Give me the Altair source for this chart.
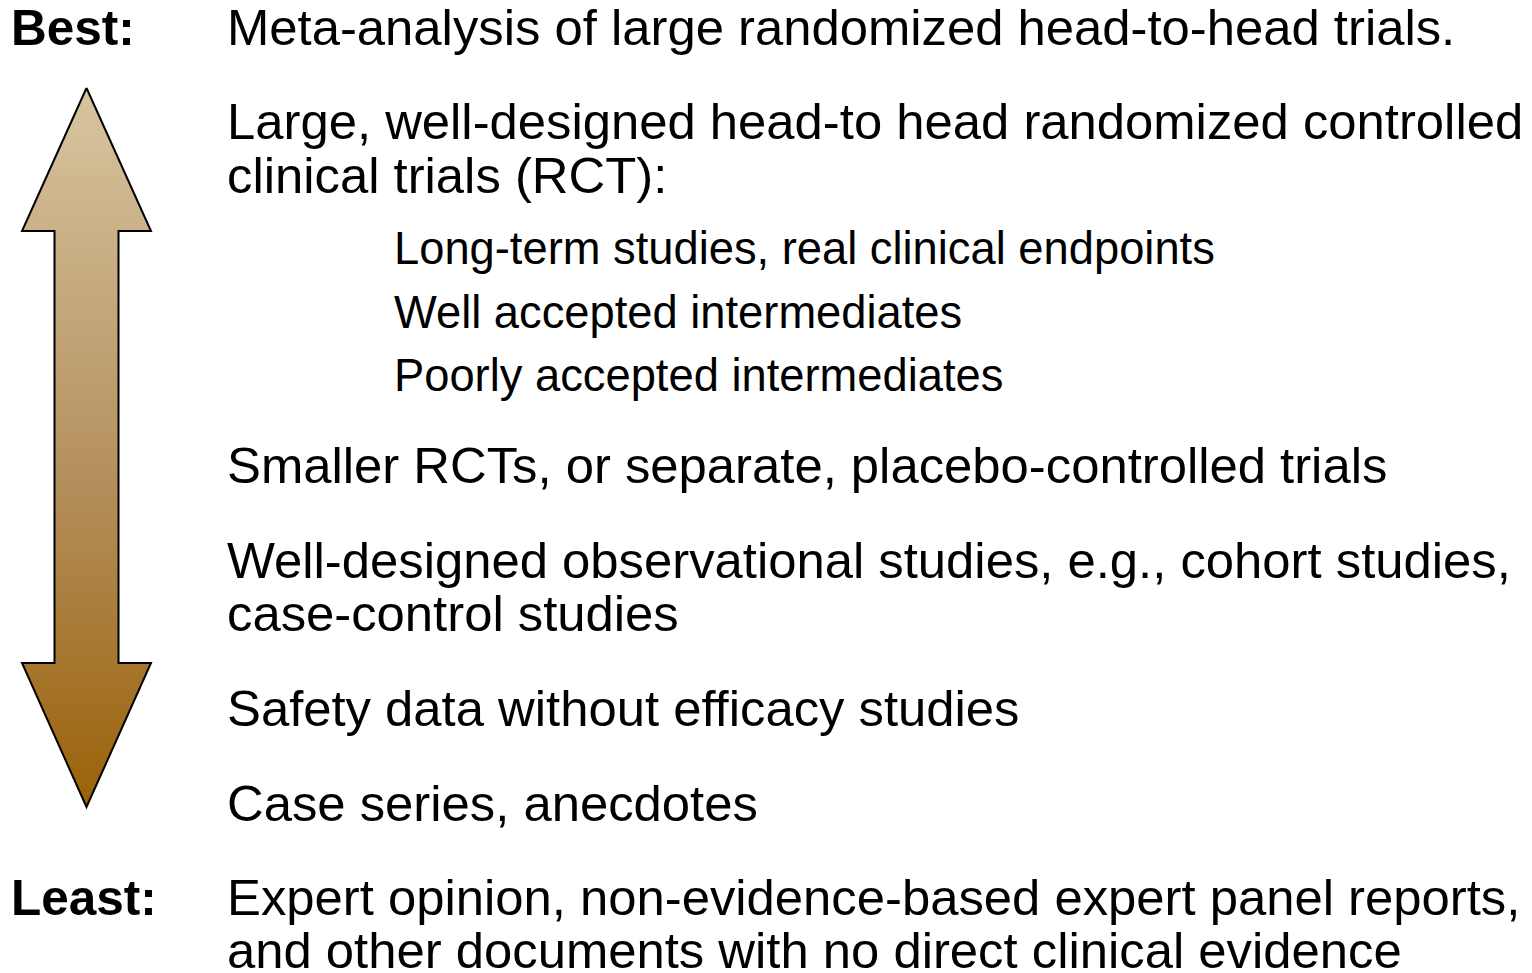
import altair as alt
import pandas as pd

# ---- content ----
labels = ["Best:", "Least:"]
main_lines = [
    "Meta-analysis of large randomized head-to-head trials.",
    "Large, well-designed head-to head randomized controlled",
    "clinical trials (RCT):",
    "Smaller RCTs, or separate, placebo-controlled trials",
    "Well-designed observational studies, e.g., cohort studies,",
    "case-control studies",
    "Safety data without efficacy studies",
    "Case series, anecdotes",
    "Expert opinion, non-evidence-based expert panel reports,",
    "and other documents with no direct clinical evidence",
]
sub_lines = [
    "Long-term studies, real clinical endpoints",
    "Well accepted intermediates",
    "Poorly accepted intermediates",
]

# ---- layout (page pixel coordinates, baselines) ----
label_y = [45, 915]
main_y = [45, 139, 193, 483, 578, 631, 726, 821, 915, 968]
sub_y = [264, 328, 391]
LABEL_X, MAIN_X, SUB_X = 11, 227, 394

# arrow geometry (closed outline, clockwise from top tip)
CX = 86.5
TIP_TOP, HEAD1, HEAD2, TIP_BOT = 88, 231, 663, 807
HEAD_HW, SHAFT_HW = 64.5, 32
pts = [
    (CX, TIP_TOP),
    (CX + HEAD_HW, HEAD1),
    (CX + SHAFT_HW, HEAD1),
    (CX + SHAFT_HW, HEAD2),
    (CX + HEAD_HW, HEAD2),
    (CX, TIP_BOT),
    (CX - HEAD_HW, HEAD2),
    (CX - SHAFT_HW, HEAD2),
    (CX - SHAFT_HW, HEAD1),
    (CX - HEAD_HW, HEAD1),
    (CX, TIP_TOP),
]
arrow = pd.DataFrame({
    "order": list(range(len(pts))),
    "x": [p[0] for p in pts],
    "y": [p[1] for p in pts],
})

W, H = 1516, 965
xs = alt.Scale(domain=[8, 8 + W], range=[0, W])
ys = alt.Scale(domain=[8 + H, 8])

grad = alt.Gradient(
    gradient="linear",
    stops=[alt.GradientStop(color="#d7c5a0", offset=0),
           alt.GradientStop(color="#b48f5c", offset=0.55),
           alt.GradientStop(color="#9a6208", offset=1)],
    x1=0, x2=0, y1=0, y2=1,
)

arrow_layer = alt.Chart(arrow).mark_line(
    fill=grad, stroke="black", strokeWidth=2, strokeJoin="miter"
).encode(
    x=alt.X("x:Q", scale=xs, axis=None),
    y=alt.Y("y:Q", scale=ys, axis=None),
    order="order:Q",
)

FONT = "Liberation Sans"

def text_layer(texts, ypos, x, size, weight):
    df = pd.DataFrame({"t": texts, "y": ypos, "x": [x] * len(texts)})
    return alt.Chart(df).mark_text(
        align="left", baseline="alphabetic", font=FONT, fontSize=size,
        fontWeight=weight, color="black"
    ).encode(
        x=alt.X("x:Q", scale=xs, axis=None),
        y=alt.Y("y:Q", scale=ys, axis=None),
        text="t:N",
    )

chart = alt.layer(
    arrow_layer,
    text_layer(labels, label_y, LABEL_X, 49.5, "bold"),
    text_layer(main_lines, main_y, MAIN_X, 50.8, "normal"),
    text_layer(sub_lines, sub_y, SUB_X, 45.3, "normal"),
).properties(
    width=W, height=H, padding=0, autosize="none", background="white"
).configure_view(stroke=None)

chart.save("out.html", embed_options={"renderer": "svg", "actions": False})
